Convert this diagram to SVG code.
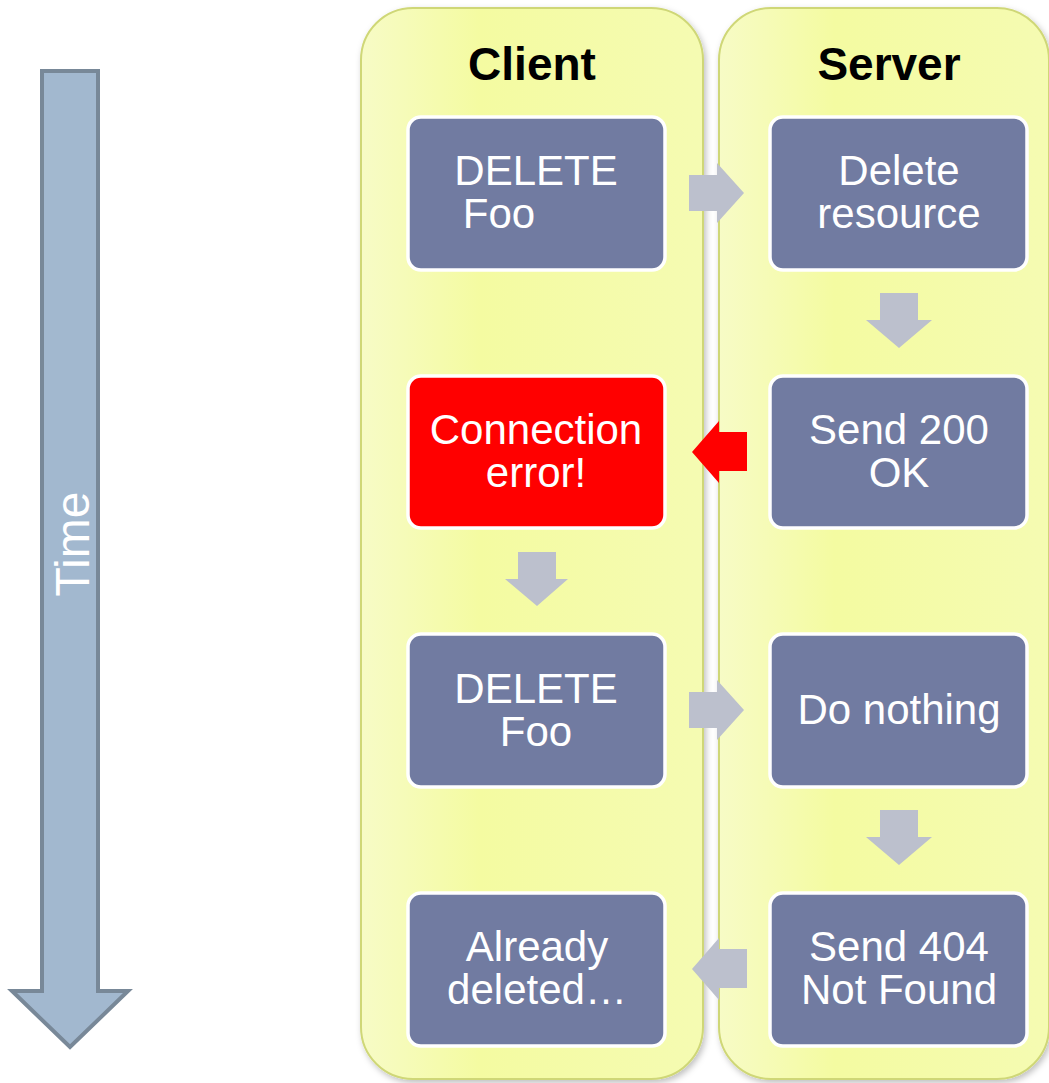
<svg xmlns="http://www.w3.org/2000/svg" width="1049" height="1083" viewBox="0 0 1049 1083">
  <style>
    .lane { fill: url(#laneFill); stroke: #cfd777; stroke-width: 2; }
    .title { font-family: "Liberation Sans", Arial, sans-serif; font-weight: bold; font-size: 46px; fill: #000; text-anchor: middle; }
    .box { fill: #717ba1; stroke: #ffffff; stroke-width: 3.5; }
    .box.err { fill: #ff0000; }
    .lbl { font-family: "Liberation Sans", Arial, sans-serif; font-size: 42px; fill: #ffffff; text-anchor: middle; }
    .flow { fill: #bcc0cd; }
    .flow.alert { fill: #ff0000; }
  </style>
  <defs>
    <linearGradient id="laneFill" x1="0" y1="0" x2="1" y2="0">
      <stop offset="0" stop-color="#f7fbc6"/>
      <stop offset="0.35" stop-color="#f4fba1"/>
      <stop offset="1" stop-color="#f5fbb2"/>
    </linearGradient>
    <filter id="shade" x="-5%" y="-5%" width="110%" height="110%">
      <feDropShadow dx="2" dy="3" stdDeviation="3" flood-color="#000" flood-opacity="0.25"/>
    </filter>
  </defs>

  <rect width="1049" height="1083" fill="#ffffff"/>

  <!-- time axis -->
  <g id="time-axis">
    <path d="M42 71 H98 V991 H128 L70 1047 L12 991 H42 Z" fill="#a2b8cf" stroke="#788898" stroke-width="4" stroke-linejoin="miter"/>
    <text class="lbl" transform="translate(89 544) rotate(-90)" style="font-size:48px">Time</text>
  </g>

  <!-- swimlanes -->
  <g id="lane-client">
    <rect class="lane" x="361" y="8" width="342" height="1071" rx="52" filter="url(#shade)"/>
    <text class="title" x="532" y="80">Client</text>
  </g>
  <g id="lane-server">
    <rect class="lane" x="719" y="8" width="330" height="1071" rx="52" filter="url(#shade)"/>
    <text class="title" x="889" y="80">Server</text>
  </g>

  <!-- connectors -->
  <g id="connectors">
    <polygon class="flow" points="689,175 717,175 717,163 744,193 717,223 717,211 689,211"/>
    <polygon class="flow" points="880,293 918,293 918,320 932,320 899,348 866,320 880,320"/>
    <polygon class="flow alert" points="747,432 719,432 719,421 692,452 719,483 719,471 747,471"/>
    <polygon class="flow" points="518,552 556,552 556,579 568,579 537,606 505,579 518,579"/>
    <polygon class="flow" points="689,692 717,692 717,680 744,710 717,740 717,728 689,728"/>
    <polygon class="flow" points="880,810 918,810 918,837 932,837 899,865 866,837 880,837"/>
    <polygon class="flow" points="747,949 719,949 719,938 692,969 719,1000 719,988 747,988"/>
  </g>

  <!-- client steps -->
  <g id="client-delete-1">
    <rect class="box" x="408" y="117" width="257" height="153" rx="13"/>
    <text class="lbl" x="536" y="184.5">DELETE</text>
    <text class="lbl" x="499" y="227.5">Foo</text>
  </g>
  <g id="client-conn-error">
    <rect class="box err" x="408" y="376" width="257" height="152" rx="13"/>
    <text class="lbl" x="536" y="443.5">Connection</text>
    <text class="lbl" x="536" y="486.5">error!</text>
  </g>
  <g id="client-delete-2">
    <rect class="box" x="408" y="634" width="257" height="153" rx="13"/>
    <text class="lbl" x="536" y="702.5">DELETE</text>
    <text class="lbl" x="536" y="745.5">Foo</text>
  </g>
  <g id="client-already-deleted">
    <rect class="box" x="408" y="893" width="257" height="153" rx="13"/>
    <text class="lbl" x="537" y="960.5">Already</text>
    <text class="lbl" x="537" y="1003.5">deleted…</text>
  </g>

  <!-- server steps -->
  <g id="server-delete-resource">
    <rect class="box" x="770" y="117" width="257" height="153" rx="13"/>
    <text class="lbl" x="899" y="184.5">Delete</text>
    <text class="lbl" x="899" y="227.5">resource</text>
  </g>
  <g id="server-send-200">
    <rect class="box" x="770" y="376" width="257" height="152" rx="13"/>
    <text class="lbl" x="899" y="443.5">Send 200</text>
    <text class="lbl" x="899" y="486.5">OK</text>
  </g>
  <g id="server-do-nothing">
    <rect class="box" x="770" y="634" width="257" height="153" rx="13"/>
    <text class="lbl" x="899" y="724">Do nothing</text>
  </g>
  <g id="server-send-404">
    <rect class="box" x="770" y="893" width="257" height="153" rx="13"/>
    <text class="lbl" x="899" y="960.5">Send 404</text>
    <text class="lbl" x="899" y="1003.5">Not Found</text>
  </g>
</svg>
